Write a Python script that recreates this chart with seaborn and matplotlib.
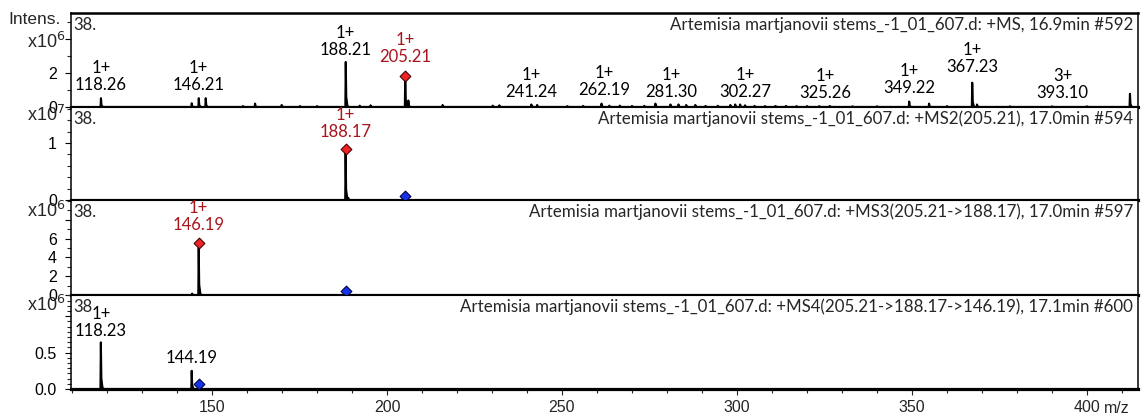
import matplotlib
matplotlib.use("Agg")
import matplotlib.pyplot as plt
import pandas as pd
import seaborn as sns
from matplotlib.ticker import MultipleLocator, FixedLocator, AutoMinorLocator

# ---- data (m/z, intensity in the panel's own unit) ----
# MS1, intensity x10^6
ms1_mz = [118.26, 144.2, 146.21, 148.2, 158.8, 162.3, 169.9, 175.1, 180.0,
          188.21, 192.2, 195.3, 205.21, 206.1, 215.9, 230.2, 232.1, 241.24,
          242.9, 251.5, 256.0, 261.3, 263.5, 266.5, 270.0, 273.5, 276.7, 281.0,
          283.3, 285.5, 288.1, 291.0, 294.5, 298.1, 299.5, 300.9, 302.3, 305.0,
          308.0, 311.0, 314.0, 317.0, 320.0, 323.5, 326.5, 333.0, 340.0,
          349.22, 354.9, 360.0, 367.23, 368.6, 378.0, 390.0, 400.0, 412.3]
ms1_int = [0.52, 0.22, 0.52, 0.52, 0.05, 0.2, 0.12, 0.05, 0.05,
           2.65, 0.08, 0.1, 1.82, 0.38, 0.12, 0.08, 0.1, 0.15,
           0.12, 0.05, 0.06, 0.2, 0.08, 0.08, 0.06, 0.07, 0.2, 0.15,
           0.15, 0.12, 0.12, 0.06, 0.07, 0.12, 0.15, 0.15, 0.1, 0.06,
           0.05, 0.06, 0.06, 0.05, 0.05, 0.05, 0.06, 0.04, 0.04,
           0.32, 0.2, 0.05, 1.43, 0.15, 0.04, 0.04, 0.04, 0.78]
ms1_lab_mz = [118.26, 146.21, 188.21, 205.21, 241.24, 262.19, 281.30,
              302.27, 325.26, 349.22, 367.23, 393.10]
ms1_lab_z = ["1+"] * 11 + ["3+"]
ms1_lab_red = [False, False, False, True] + [False] * 8
ms1_prec = [205.21]
ms1_prec_int = [1.85]

# MS2(205.21), intensity x10^7
ms2_mz = [188.17, 188.9]
ms2_int = [0.84, 0.04]
ms2_lab_mz = [188.17]
ms2_lab_z = ["1+"]
ms2_prec = [188.17]
ms2_prec_int = [0.9]
ms2_parent = [205.21]
ms2_parent_int = [0.07]

# MS3(205.21->188.17), intensity x10^6
ms3_mz = [144.3, 146.19]
ms3_int = [0.15, 5.0]
ms3_lab_mz = [146.19]
ms3_lab_z = ["1+"]
ms3_prec = [146.19]
ms3_prec_int = [5.5]
ms3_parent = [188.17]
ms3_parent_int = [0.45]

# MS4(205.21->188.17->146.19), intensity x10^6
ms4_mz = [118.23, 144.19]
ms4_int = [0.64, 0.25]
ms4_lab_mz = [118.23, 144.19]
ms4_lab_z = ["1+", ""]
ms4_parent = [146.19]
ms4_parent_int = [0.07]

titles = [
    "Artemisia martjanovii stems_-1_01_607.d: +MS, 16.9min #592",
    "Artemisia martjanovii stems_-1_01_607.d: +MS2(205.21), 17.0min #594",
    "Artemisia martjanovii stems_-1_01_607.d: +MS3(205.21->188.17), 17.0min #597",
    "Artemisia martjanovii stems_-1_01_607.d: +MS4(205.21->188.17->146.19), 17.1min #600",
]
multipliers = ["x10$^6$", "x10$^7$", "x10$^6$", "x10$^6$"]

sns.set_theme(style="ticks")
plt.rcParams["font.family"] = ["Liberation Sans", "DejaVu Sans"]
ANN_FONT = ["Lato", "DejaVu Sans"]
ANN_SIZE = 12
RED_TXT = "#a8141b"


def profile(mz, inten):
    # each peak drawn as a narrow tailing stick
    rows = []
    for m, h in zip(mz, inten):
        rows += [(m - 0.12, 0.0), (m, h), (m + 0.15, 0.22 * h),
                 (m + 0.45, 0.04 * h), (m + 0.7, 0.0)]
    return pd.DataFrame(rows, columns=["mz", "intensity"])


W, H = 1142, 419
fig = plt.figure(figsize=(W / 100, H / 100), dpi=100)
# panel boxes in pixels: (top, bottom)
boxes = [(13, 107), (107, 200), (200, 295), (295, 389)]
left_px, right_px = 71, 1138
axes = []
for top, bot in boxes:
    ax = fig.add_axes([left_px / W, 1 - bot / H, (right_px - left_px) / W, (bot - top) / H])
    axes.append(ax)

ylims = [(0, 5.53), (0, 1.63), (0, 10.1), (0, 1.29)]
spectra = [(ms1_mz, ms1_int), (ms2_mz, ms2_int), (ms3_mz, ms3_int), (ms4_mz, ms4_int)]

for i, ax in enumerate(axes):
    df = profile(*spectra[i])
    sns.lineplot(data=df, x="mz", y="intensity", sort=False, estimator=None,
                 color="black", lw=1.5, ax=ax)
    ax.fill_between(df["mz"], df["intensity"], color="black", lw=0)
    ax.set_xlim(109.7, 414.6)
    ax.set_ylim(*ylims[i])
    ax.set_xlabel("")
    ax.set_ylabel("")
    for s in ["left", "right"]:
        ax.spines[s].set_linewidth(1.1)
    ax.spines["top"].set_linewidth(1.8 if i == 0 else 0.8)
    ax.spines["bottom"].set_linewidth(2.3)
    for s in ax.spines.values():
        s.set_color("black")
    ax.tick_params(axis="y", which="major", length=4.5, width=0.8, pad=5.5, labelsize=11.5, colors="black")
    ax.tick_params(axis="y", which="minor", length=3, width=0.8, left=True)
    ax.tick_params(axis="x", which="both", bottom=(i == 3), labelbottom=(i == 3))
    ax.tick_params(axis="x", which="major", length=4.5, width=0.8, pad=3.5, labelsize=11.5)
    ax.tick_params(axis="x", which="minor", length=3, width=0.8)
    ax.xaxis.set_major_locator(MultipleLocator(50))
    ax.xaxis.set_minor_locator(MultipleLocator(10))
    ax.annotate(titles[i], xy=(1, 1), xycoords="axes fraction", xytext=(-3.5, -8.5),
                textcoords="offset points", ha="right", va="center",
                family=ANN_FONT, fontsize=12.2)
    ax.annotate("38" if i == 3 else "38.", xy=(0, 1), xycoords="axes fraction",
                xytext=(1.5, -8.5), textcoords="offset points", ha="left", va="center",
                family=ANN_FONT, fontsize=ANN_SIZE)

# y ticks per panel
axes[0].yaxis.set_major_locator(FixedLocator([0, 2, 4]))
axes[0].set_yticklabels(["0", "2", ""])
axes[0].yaxis.set_minor_locator(FixedLocator([1, 3, 5]))
axes[1].yaxis.set_major_locator(FixedLocator([0, 1]))
axes[1].set_yticklabels(["0", "1"])
axes[1].yaxis.set_minor_locator(MultipleLocator(0.2))
axes[2].yaxis.set_major_locator(FixedLocator([0, 2, 4, 6, 8]))
axes[2].set_yticklabels(["0", "2", "4", "6", ""])
axes[2].yaxis.set_minor_locator(MultipleLocator(1))
axes[3].yaxis.set_major_locator(FixedLocator([0, 0.5, 1.0]))
axes[3].set_yticklabels(["0.0", "0.5", ""])
axes[3].yaxis.set_minor_locator(AutoMinorLocator(7))

# multipliers and axis text
mult_y = [42, 115, 211, 305]
for y, t in zip(mult_y, multipliers):
    fig.text(65 / W, 1 - y / H, t, ha="right", va="center", fontsize=13)
fig.text(61 / W, 1 - 19 / H, "Intens.", ha="right", va="center", fontsize=12.5)
axes[3].annotate("m/z", xy=(1, 0), xycoords="axes fraction", xytext=(-6, -14),
                 textcoords="offset points", ha="right", va="center", fontsize=11.5)


def label_peaks(ax, mzs, charges, ys, reds):
    for m, z, y, red in zip(mzs, charges, ys, reds):
        c = RED_TXT if red else "black"
        ax.annotate(f"{m:.2f}", xy=(m, y), ha="center", va="center",
                    family=ANN_FONT, fontsize=ANN_SIZE, color=c)
        if z:
            ax.annotate(z, xy=(m, y), xytext=(0, 12.5), textcoords="offset points",
                        ha="center", va="center", family=ANN_FONT, fontsize=ANN_SIZE, color=c)


# label heights (layout)
label_peaks(axes[0], ms1_lab_mz, ms1_lab_z,
            [1.29, 1.29, 3.35, 2.94, 0.88, 1.0, 0.88, 0.88, 0.82, 1.12, 2.35, 0.82],
            ms1_lab_red)
label_peaks(axes[1], ms2_lab_mz, ms2_lab_z, [1.19], [True])
label_peaks(axes[2], ms3_lab_mz, ms3_lab_z, [7.45], [True])
label_peaks(axes[3], ms4_lab_mz, ms4_lab_z, [0.79, 0.43], [False, False])

# precursor (red) and parent (blue) diamonds
red_sets = [(axes[0], ms1_prec, ms1_prec_int), (axes[1], ms2_prec, ms2_prec_int),
            (axes[2], ms3_prec, ms3_prec_int)]
blue_sets = [(axes[1], ms2_parent, ms2_parent_int), (axes[2], ms3_parent, ms3_parent_int),
             (axes[3], ms4_parent, ms4_parent_int)]
for ax, xs, ys in red_sets:
    sns.scatterplot(x=xs, y=ys, marker="D", s=30, color="#ee2328", edgecolor="#4a0000",
                    linewidth=0.8, ax=ax, zorder=5, clip_on=False)
for ax, xs, ys in blue_sets:
    sns.scatterplot(x=xs, y=ys, marker="D", s=30, color="#1632e6", edgecolor="#00004a",
                    linewidth=0.8, ax=ax, zorder=5, clip_on=False)

fig.savefig("out.png", dpi=100)
